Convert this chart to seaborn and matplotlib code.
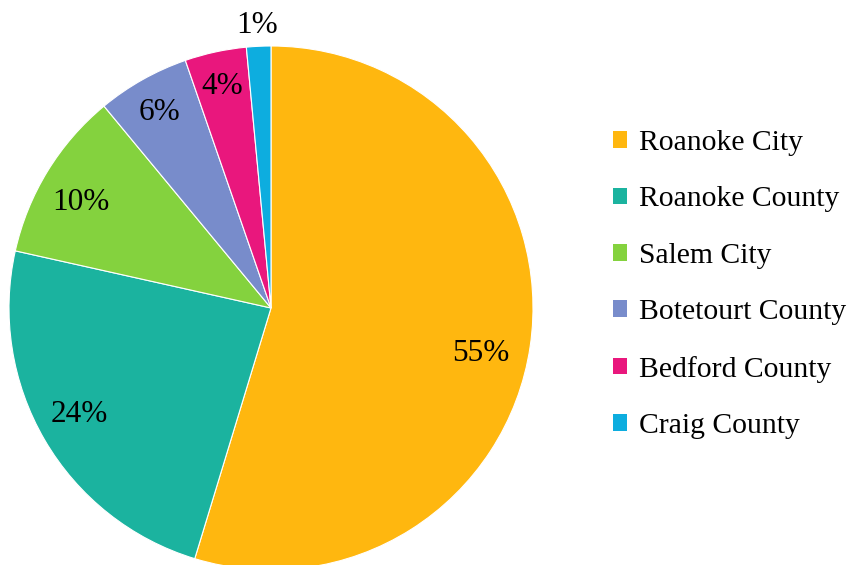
import matplotlib
matplotlib.use("Agg")
import matplotlib.pyplot as plt
import matplotlib.patches as mpatches
import matplotlib.transforms as mtransforms
import numpy as np
import seaborn as sns

sns.set_theme(style="white")
plt.rcParams['font.family'] = ['Liberation Serif', 'DejaVu Serif']
plt.rcParams['text.color'] = 'black'

categories = ["Roanoke City", "Roanoke County", "Salem City", "Botetourt County",
              "Bedford County", "Craig County"]
values = [54.7, 23.8, 10.5, 5.7, 3.8, 1.5]
pct_labels = ["55%", "24%", "10%", "6%", "4%", "1%"]
colors = ["#FFB70F", "#1BB39F", "#84D23E", "#788CCB", "#E9177D", "#0DADDF"]
label_dist = [0.818, 0.83, 0.835, 0.867, 0.875, 1.089]
label_angle_shift = [-3.1, -1.9, 1.8, 0.0, 0.0, 0.0]

W, H = 859, 565
fig = plt.figure(figsize=(W / 100, H / 100), dpi=100)
cx, cy, r = 271, 308, 262
ax = fig.add_axes([(cx - r) / W, (H - cy - r) / H, 2 * r / W, 2 * r / H])

wedges, _ = ax.pie(values, colors=colors, startangle=90, counterclock=False,
                   radius=1.0, wedgeprops=dict(edgecolor="white", linewidth=0.8))
ax.set_xlim(-1, 1)
ax.set_ylim(-1, 1)
ax.set_aspect("auto")
ax.axis("off")

trans = mtransforms.offset_copy(ax.transData, fig=fig, y=-3, units="dots")
for w, lab, d, s in zip(wedges, pct_labels, label_dist, label_angle_shift):
    ang = np.deg2rad((w.theta1 + w.theta2) / 2 + s)
    ax.text(d * np.cos(ang), d * np.sin(ang), lab, ha="center", va="center",
            fontsize=22.5, color="black", clip_on=False, transform=trans)

handles = [mpatches.Patch(facecolor=c, edgecolor="none", label=l) for c, l in zip(colors, categories)]
leg = fig.legend(handles=handles, loc="center left", bbox_to_anchor=(613 / W, 1 - 284.5 / H),
                 frameon=False, fontsize=21.3, handlelength=0.48, handleheight=0.48,
                 handletextpad=0.4, labelspacing=1.03, borderaxespad=0, borderpad=0)
for t in leg.get_texts():
    t.set_color("black")

fig.savefig("out.png", dpi=100)
